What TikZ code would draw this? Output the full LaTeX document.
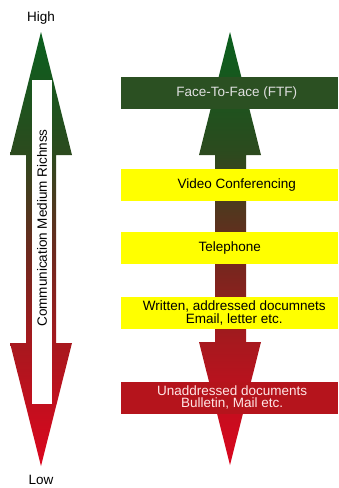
\documentclass[tikz,border=0pt]{standalone}
\usepackage{fontspec}
\setmainfont{Liberation Sans}
\definecolor{cRed}{HTML}{DC061E}
\definecolor{cRed2}{HTML}{A8181E}
\definecolor{cBrown}{HTML}{6B2A1E}
\definecolor{cGreen2}{HTML}{2C4A1E}
\definecolor{cGreen}{HTML}{0A601E}
\definecolor{ftfgreen}{HTML}{2B5022}
\definecolor{unred}{HTML}{B5141C}
\definecolor{yel}{HTML}{FFFF00}
\pgfdeclareverticalshading{arrowshade}{100bp}{color(0bp)=(cRed); color(25bp)=(cRed); color(39bp)=(cRed2); color(50bp)=(cBrown); color(61bp)=(cGreen2); color(75bp)=(cGreen); color(100bp)=(cGreen)}
\begin{document}
\begin{tikzpicture}[x=1pt,y=-1pt,
  lbl/.style={font=\fontsize{13.5}{15}\selectfont, inner sep=0pt, align=center},
  box/.style={minimum width=217pt, minimum height=32pt, inner sep=0pt, draw=none, anchor=north west},
  dbl/.style={shading=arrowshade, draw=none}]
\useasboundingbox (0,0) rectangle (338,488);
\fill[white] (0,0) rectangle (338,488);
% left arrow
\path[dbl] (41,32) -- (72,155) -- (56,155) -- (56,343) -- (72,343) -- (41,466) -- (10,343) -- (26,343) -- (26,155) -- (10,155) -- cycle;
\fill[white] (32,80) rectangle (51.5,404);
\node[lbl, rotate=90] (axis) at (42,228) {Communication Medium Richnss};
\node[lbl] (high) at (41,18) {High};
\node[lbl] (low) at (41,480) {Low};
% right arrow
\path[dbl] (230,32) -- (261,155) -- (246,155) -- (246,342) -- (261,342) -- (230,465) -- (199,342) -- (215,342) -- (215,155) -- (199,155) -- cycle;
% boxes
\node[box, fill=ftfgreen] (ftf) at (121,77) {};
\node[box, fill=yel] (video) at (121,168.5) {};
\node[box, fill=yel] (tel) at (121,232) {};
\node[box, fill=yel] (written) at (121,297) {};
\node[box, fill=unred] (unaddr) at (121,381.5) {};
\node[lbl, text=white!88!black] (ftft) at ([xshift=7pt]ftf.center) {Face-To-Face (FTF)};
\node[lbl] (videot) at ([xshift=7pt]video.center) {Video Conferencing};
\node[lbl] (telt) at ([xshift=0pt]tel.center) {Telephone};
\node[lbl, font=\fontsize{13.5}{12.5}\selectfont] (writtent) at ([xshift=4.5pt]written.center) {Written, addressed documnets\\Email, letter etc.};
\node[lbl, font=\fontsize{13.5}{12.5}\selectfont, text=white!90!red] (unaddrt) at ([xshift=2.5pt]unaddr.center) {Unaddressed documents\\Bulletin, Mail etc.};
\end{tikzpicture}
\end{document}
